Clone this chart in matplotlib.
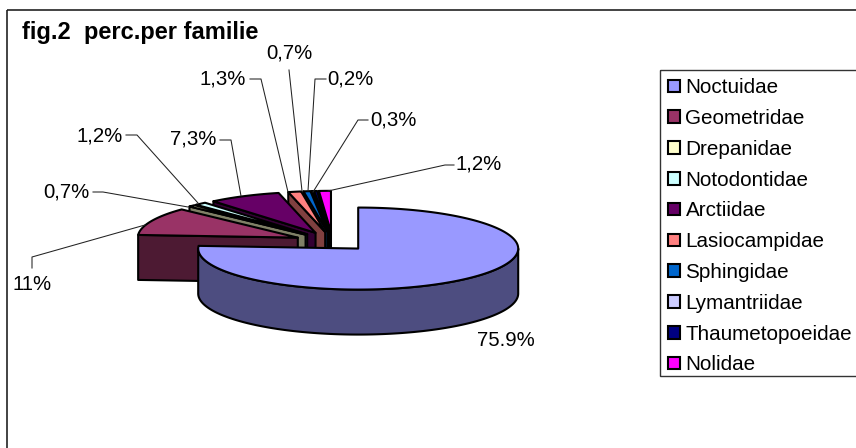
"""fig.2 exploded 3D pie, percentages per moth family."""
import numpy as np
import matplotlib
matplotlib.use("Agg")
import matplotlib.pyplot as plt
from matplotlib.patches import Patch, Polygon, Rectangle

plt.rcParams["font.family"] = ["Liberation Sans", "DejaVu Sans"]

families = ["Noctuidae", "Geometridae", "Drepanidae", "Notodontidae", "Arctiidae",
            "Lasiocampidae", "Sphingidae", "Lymantriidae", "Thaumetopoeidae", "Nolidae"]
percent = [75.9, 11, 0.7, 1.2, 7.3, 1.3, 0.7, 0.2, 0.3, 1.2]
labels = ["75.9%", "11%", "0,7%", "1,2%", "7,3%", "1,3%", "0,7%", "0,2%", "0,3%", "1,2%"]
colors = ["#9999FF", "#993366", "#FFFFCC", "#CCFFFF", "#660066",
          "#FF8080", "#0066CC", "#CCCCFF", "#000080", "#FF00FF"]

# pie geometry, in pixels of the picture
CX, CY = 332.4, 241.5
RX, RY = 160, 41
DEPTH = 45
EXPLODE = 0.236
EDGE = 1.5
FONT = 14.7

# label text centre and leader line
label_layout = [
    ((506, 341), None),
    ((32, 284), [(145, 225), (32, 257), (32, 268)]),
    ((66, 192), [(188, 207), (103, 192), (93, 192)]),
    ((100, 136), [(198, 203), (137, 135), (126, 135)]),
    ((193, 139), [(241, 196), (231, 140), (220, 140)]),
    ((223, 79), [(288, 192), (261, 79), (250, 79)]),
    ((289, 53), [(302, 191), (289, 70)]),
    ((350, 79), [(308, 191), (315, 79), (326, 79)]),
    ((393, 120), [(313, 192), (358, 120), (368, 120)]),
    ((479, 164), [(328, 191), (445, 165), (454, 165)]),
]


def rim(ax_c, theta):
    """Point on the ellipse, theta in radians clockwise from 12 o'clock."""
    return np.column_stack((ax_c[0] + RX * np.sin(theta), ax_c[1] - RY * np.cos(theta)))


def shade(color):
    return tuple(0.5 * c for c in matplotlib.colors.to_rgb(color))


def draw_slice(ax, start, end, color):
    mid = (start + end) / 2
    apex = (CX + EXPLODE * RX * np.sin(mid), CY - EXPLODE * RY * np.cos(mid))
    dark = shade(color)
    style = dict(edgecolor="k", linewidth=EDGE, joinstyle="round")

    # wall along the first radial edge, only when it faces the viewer
    if start > np.pi:
        p = rim(apex, np.array([start]))[0]
        wall = [apex, p, (p[0], p[1] + DEPTH), (apex[0], apex[1] + DEPTH)]
        ax.add_patch(Polygon(wall, facecolor=dark, **style))

    # outer wall on the front half
    lo, hi = max(start, np.pi / 2), min(end, 3 * np.pi / 2)
    if lo < hi:
        arc = rim(apex, np.linspace(lo, hi, 200))
        low = arc[::-1] + (0, DEPTH)
        ax.add_patch(Polygon(np.vstack((arc, low)), facecolor=dark, **style))

    # top face
    top = rim(apex, np.linspace(start, end, 300))
    ax.add_patch(Polygon(np.vstack(([apex], top)), facecolor=color, **style))


fig = plt.figure(figsize=(8.56, 4.48), dpi=100)
ax = fig.add_axes([0, 0, 1, 1])
ax.set_xlim(0, 856)
ax.set_ylim(448, 0)
ax.axis("off")

# chart frame runs off the right and bottom of the picture
ax.add_patch(Rectangle((7, 10.5), 900, 500, fill=False, edgecolor="#222222", linewidth=1.2))
ax.text(22, 33, "fig.2  perc.per familie", fontsize=17, fontweight="bold", va="center", ha="left")

# slices run clockwise from 12 o'clock, the back ones are painted first
edges = np.concatenate(([0], np.cumsum(percent))) / sum(percent) * 2 * np.pi
for i in range(len(percent) - 1, -1, -1):
    draw_slice(ax, edges[i], edges[i + 1], colors[i])

for text, (pos, leader) in zip(labels, label_layout):
    ax.text(pos[0], pos[1], text, fontsize=FONT, ha="center", va="center")
    if leader:
        xs, ys = zip(*leader)
        ax.plot(xs, ys, color="#222222", linewidth=0.75)

# legend box drawn by hand, the automatic one comes out too tall
ax.add_patch(Rectangle((660, 70), 250, 306, fill=False, edgecolor="#333333", linewidth=1.0))
handles = [Patch(facecolor=c, edgecolor="k", linewidth=EDGE) for c in colors]
leg = ax.legend(handles, families, loc="upper left", bbox_to_anchor=(660, 70),
                bbox_transform=ax.transData, borderaxespad=0, fontsize=14.9,
                handlelength=0.56, handleheight=0.56, handletextpad=0.27,
                labelspacing=0.57, borderpad=0.4, frameon=False)

fig.savefig("out.png", dpi=100)
